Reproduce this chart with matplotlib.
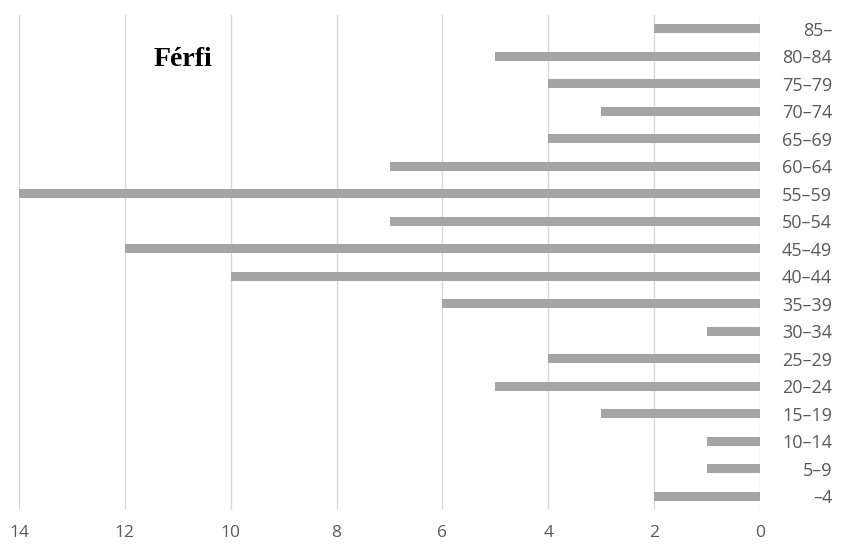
import matplotlib
matplotlib.use("Agg")
import matplotlib.pyplot as plt

age_groups = ["\u20134", "5\u20139", "10\u201314", "15\u201319", "20\u201324", "25\u201329",
              "30\u201334", "35\u201339", "40\u201344", "45\u201349", "50\u201354", "55\u201359",
              "60\u201364", "65\u201369", "70\u201374", "75\u201379", "80\u201384", "85\u2013"]
male_counts = [2, 1, 1, 3, 5, 4, 1, 6, 10, 12, 7, 14, 7, 4, 3, 4, 5, 2]
x_ticks = [0, 2, 4, 6, 8, 10, 12, 14]

plt.rcParams["font.family"] = ["Open Sans", "DejaVu Sans"]

fig = plt.figure(figsize=(8.45, 5.47), dpi=100)
ax = fig.add_axes([19 / 845, 1 - 510 / 547, (760 - 19) / 845, (510 - 15) / 547])

pos = list(range(len(age_groups)))
ax.barh(pos, male_counts, height=0.34, color="#A5A5A5", zorder=3)

ax.set_xlim(14, 0)
ax.set_ylim(-0.5, len(age_groups) - 0.5)
ax.set_xticks(x_ticks)
ax.set_xticklabels([str(t) for t in x_ticks])
ax.grid(axis="x", color="#D9D9D9", linewidth=1, zorder=0)

ax.yaxis.tick_right()
ax.set_yticks(pos)
ax.set_yticklabels(age_groups)
for lab in ax.get_yticklabels():
    lab.set_horizontalalignment("right")
ax.tick_params(axis="y", length=0, pad=52, labelsize=13, labelcolor="#595959")
ax.tick_params(axis="x", length=0, pad=11, labelsize=12.5, labelcolor="#595959")

for s in ax.spines.values():
    s.set_visible(False)

ax.text(183 / 845, 1 - 59 / 547, "Férfi", transform=fig.transFigure, ha="center", va="center",
        fontsize=20, fontweight="bold", family="Liberation Serif", color="black")

fig.savefig("out.png", dpi=100)
